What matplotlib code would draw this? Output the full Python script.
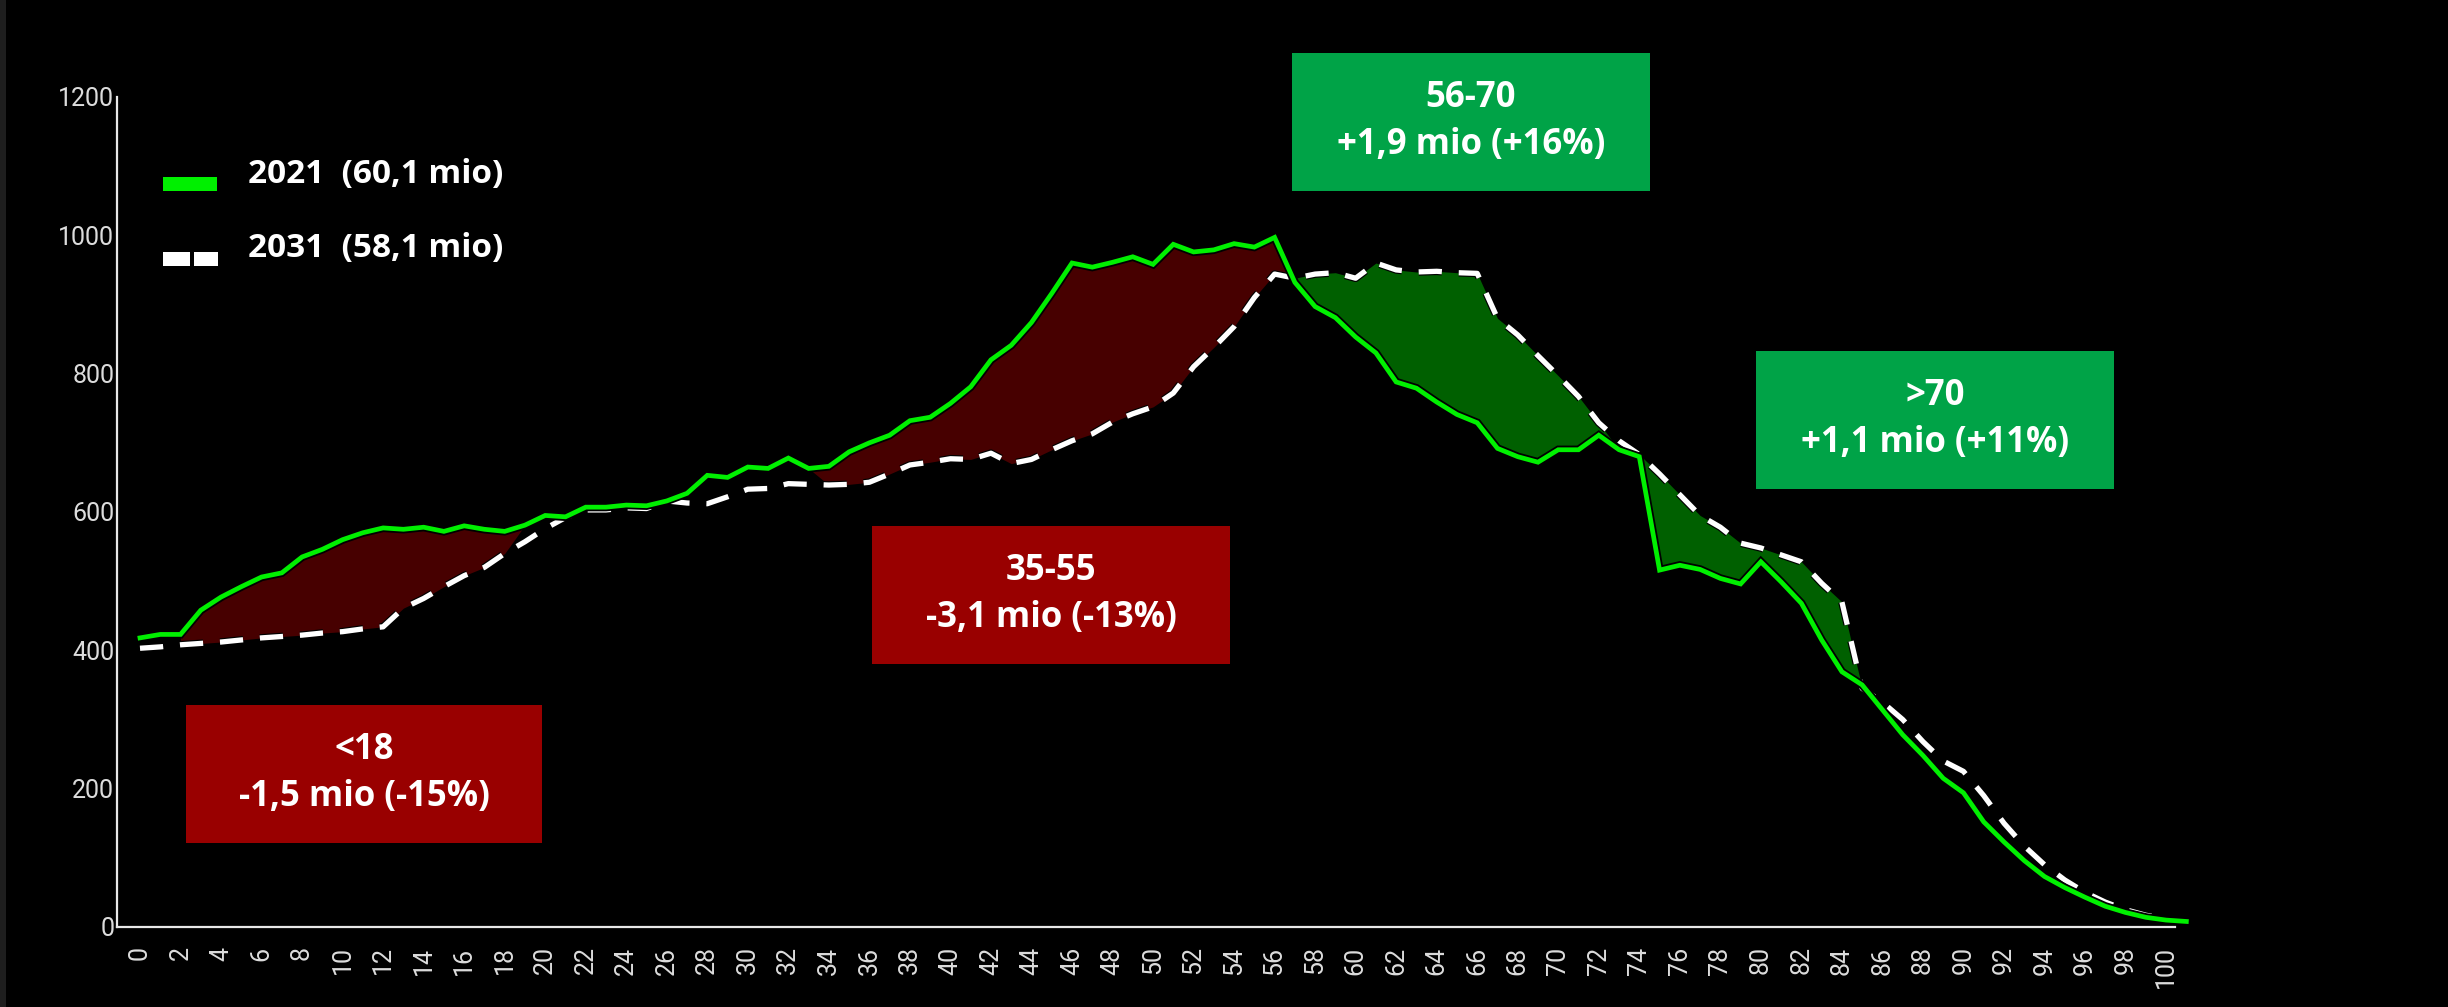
import numpy as np
import matplotlib
matplotlib.use("Agg")
import matplotlib.pyplot as plt
from matplotlib.patches import Rectangle
import matplotlib.patheffects as pe

# Population by single year of age (thousands)
ages_2021 = list(range(0, 102))
pop_2021 = [418, 423, 423, 458, 477, 492, 506, 512, 535, 546,
            560, 570, 577, 575, 578, 572, 580, 575, 572, 581,
            595, 593, 607, 607, 610, 609, 616, 627, 653, 650,
            665, 663, 678, 663, 666, 687, 700, 711, 732, 737,
            757, 781, 820, 841, 874, 916, 960, 954, 961, 969,
            958, 987, 976, 979, 988, 983, 997, 932, 897, 881,
            853, 830, 788, 779, 759, 741, 729, 692, 680, 672,
            690, 690, 711, 690, 680, 516, 523, 517, 504, 496,
            528, 499, 468, 415, 369, 350, 314, 278, 248, 215,
            194, 152, 123, 96, 73, 57, 43, 30, 21, 14,
            10, 8]

ages_2031 = list(range(0, 101))
pop_2031 = [403, 405, 408, 410, 412, 415, 418, 420, 422, 425,
            427, 431, 434, 461, 475, 492, 508, 520, 540, 557,
            576, 592, 603, 603, 606, 605, 616, 613, 612, 622,
            633, 634, 641, 640, 639, 640, 643, 655, 668, 672,
            677, 676, 685, 670, 676, 690, 703, 713, 730, 742,
            752, 772, 810, 838, 868, 910, 944, 938, 944, 946,
            938, 960, 950, 947, 948, 946, 945, 880, 856, 826,
            797, 767, 729, 703, 683, 655, 625, 595, 578, 555,
            548, 538, 528, 497, 470, 345, 325, 300, 268, 240,
            225, 190, 150, 117, 90, 68, 50, 36, 25, 17,
            12]

legend_labels = ["2021  (60,1 mio)", "2031  (58,1 mio)"]

# Age groups with shaded change and their summary boxes
group_spans = [(2, 18), (34, 56), (56, 72), (74, 85)]
group_kind = ["loss", "loss", "gain", "gain"]
group_titles = ["<18", "35-55", "56-70", ">70"]
group_changes = ["-1,5 mio (-15%)", "-3,1 mio (-13%)", "+1,9 mio (+16%)", "+1,1 mio (+11%)"]

xtick_vals = list(range(0, 101, 2))
ytick_vals = list(range(0, 1201, 200))

W, H = 2448, 1007
fig = plt.figure(figsize=(W / 100, H / 100), dpi=100, facecolor="black")

def fx(px):
    return px / W

def fy(py):
    return 1 - py / H

ax = fig.add_axes([fx(117), fy(927), fx(2175) - fx(117), fy(97) - fy(927)])
ax.set_facecolor("black")

a21 = np.array(ages_2021)
p21 = np.array(pop_2021, dtype=float)
a31 = np.array(ages_2031)
p31 = np.array(pop_2031, dtype=float)
n = len(a31)

fill_colors = {"loss": "#470000", "gain": "#006000"}
for (lo, hi), kind in zip(group_spans, group_kind):
    mask = (a31 >= lo) & (a31 <= hi)
    if kind == "loss":
        ax.fill_between(a31, p21[:n], p31, where=mask & (p21[:n] >= p31),
                        interpolate=True, color=fill_colors[kind], lw=0, zorder=1)
    else:
        ax.fill_between(a31, p21[:n], p31, where=mask & (p31 >= p21[:n]),
                        interpolate=True, color=fill_colors[kind], lw=0, zorder=1)

ax.plot(a31, p31, color="white", lw=3.8, dashes=(4.4, 3.2), dash_capstyle="butt",
        zorder=3, clip_on=False,
        path_effects=[pe.Stroke(linewidth=5.5, foreground="black"), pe.Normal()])
ax.plot(a21, p21, color="#00f000", lw=3.4, zorder=4, clip_on=False,
        solid_joinstyle="miter",
        path_effects=[pe.Stroke(linewidth=6, foreground="black"), pe.Normal()])

ax.set_xlim(-1.135, 100.44)
ax.set_ylim(0, 1200)
ax.set_xticks(xtick_vals)
ax.set_xticklabels([str(v) for v in xtick_vals], rotation=90,
                   fontsize=18, family="Roboto", color="#dcdcdc")
ax.set_yticks(ytick_vals)
ax.set_yticklabels([str(v) for v in ytick_vals],
                   fontsize=18, family="Roboto", color="#dcdcdc")
ax.tick_params(axis="x", length=0, pad=14)
ax.tick_params(axis="y", length=0, pad=2)
for side in ["top", "right"]:
    ax.spines[side].set_visible(False)
for side in ["left", "bottom"]:
    ax.spines[side].set_color("#e8e8e8")
    ax.spines[side].set_linewidth(1.6)

text_font = "Open Sans"

# Legend drawn by hand
fig.add_artist(Rectangle((fx(163), fy(191)), fx(217) - fx(163), fy(177) - fy(191),
                         transform=fig.transFigure, color="#00f000", lw=0))
for x0, x1 in [(163, 190), (194, 218)]:
    fig.add_artist(Rectangle((fx(x0), fy(266)), fx(x1) - fx(x0), fy(252) - fy(266),
                             transform=fig.transFigure, color="white", lw=0))
for label, ypx in zip(legend_labels, [174, 249]):
    fig.text(fx(248), fy(ypx), label, color="white", fontsize=24, family=text_font,
             fontweight="bold", ha="left", va="center")

# Summary boxes
box_px = [(186, 705, 542, 843), (872, 526, 1230, 664),
          (1292, 53, 1650, 191), (1756, 351, 2114, 489)]
box_colors = {"loss": "#990000", "gain": "#00a347"}
for (x0, y0, x1, y1), kind, title, change in zip(box_px, group_kind, group_titles, group_changes):
    fig.add_artist(Rectangle((fx(x0), fy(y1)), fx(x1) - fx(x0), fy(y0) - fy(y1),
                             transform=fig.transFigure, color=box_colors[kind], lw=0))
    cx = (x0 + x1) / 2
    cy = (y0 + y1) / 2
    fig.text(fx(cx), fy(cy - 24), title, color="white", fontsize=25, family=text_font,
             fontweight="bold", ha="center", va="center")
    fig.text(fx(cx), fy(cy + 23), change, color="white", fontsize=25, family=text_font,
             fontweight="bold", ha="center", va="center")

# Dark strip along the left edge
fig.add_artist(Rectangle((0, 0), fx(6), 1, transform=fig.transFigure,
                         color="#1e1e1e", lw=0))

fig.savefig("out.png", dpi=100, facecolor="black")
